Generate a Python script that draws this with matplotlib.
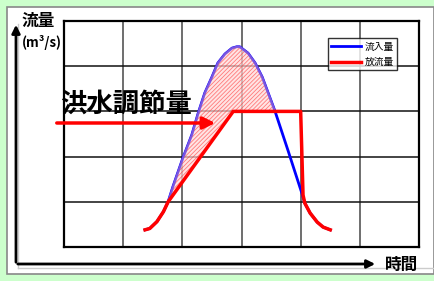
import matplotlib.pyplot as plt
from matplotlib.patches import Rectangle

plt.rcParams['font.family'] = ['Noto Sans CJK JP', 'DejaVu Sans']
plt.rcParams['hatch.linewidth'] = 0.6

# 時間 (grid units) and 流量 readings
t_in = [1.37, 1.45, 1.57, 1.68, 1.76, 1.84, 2.01, 2.16, 2.27, 2.38, 2.50, 2.60, 2.72, 2.84, 2.92,
        2.97, 3.11, 3.23, 3.35, 3.45, 3.57, 3.79, 4.02, 4.07, 4.16, 4.28, 4.38, 4.50]
q_in = [0.38, 0.41, 0.56, 0.78, 1.00, 1.33, 1.97, 2.48, 2.97, 3.41, 3.76, 4.07, 4.27, 4.40, 4.43,
        4.43, 4.29, 4.07, 3.76, 3.41, 2.99, 2.12, 1.19, 0.97, 0.75, 0.55, 0.44, 0.38]

t_out = [1.37, 1.45, 1.57, 1.68, 1.76, 2.86, 4.00, 4.04, 4.07, 4.16, 4.28, 4.38, 4.50]
q_out = [0.38, 0.41, 0.56, 0.78, 1.00, 3.00, 3.00, 1.15, 0.97, 0.75, 0.55, 0.44, 0.38]

legend_labels = ['流入量', '放流量']

W, H = 434, 281
fig = plt.figure(figsize=(W / 100, H / 100), dpi=100)
fig.patch.set_facecolor('#ccffcc')

# background panel (pixel coords)
bg = fig.add_axes([0, 0, 1, 1])
bg.set_xlim(0, W)
bg.set_ylim(H, 0)
bg.axis('off')
bg.add_patch(Rectangle((7, 7), W - 7, 267, facecolor='white', edgecolor='#888888', lw=1.2))
bg.plot([18, 18], [24, 268], color='#cccccc', lw=1)
bg.plot([18, W], [268, 268], color='#cccccc', lw=1)

# main chart
ax = fig.add_axes([64 / W, 1 - 247 / H, 355 / W, 226 / H])
ax.set_xlim(0, 6)
ax.set_ylim(0, 5)
ax.set_xticks(range(7))
ax.set_yticks(range(6))
ax.tick_params(length=0, labelbottom=False, labelleft=False)
for x in range(1, 6):
    ax.axvline(x, color='#555555', lw=1.2, zorder=0)
for y in range(1, 5):
    ax.axhline(y, color='#111111', lw=1.1, zorder=0)
for s in ax.spines.values():
    s.set_linewidth(1.6)
    s.set_color('black')

ax.plot(t_in, q_in, color='blue', lw=2, zorder=2, label=legend_labels[0])

# hatched area: inflow above outflow (between the two crossing points)
i0, i1 = t_in.index(1.76), t_in.index(3.57)
poly_t = t_in[i0:i1 + 1] + [2.86, 1.76]
poly_q = q_in[i0:i1 + 1] + [3.00, 1.00]
ax.fill(poly_t, poly_q, facecolor=(1, 0.85, 0.85, 0.7), edgecolor=(1, 0.2, 0.2, 0.6),
        hatch='////////', lw=0, zorder=3)
ax.plot(t_in[i0:i1 + 1], q_in[i0:i1 + 1], color='#7a55e0', lw=1.6, zorder=3)
ax.plot(t_out, q_out, color='red', lw=2.5, zorder=4, label=legend_labels[1])

leg = ax.legend(loc='upper right', bbox_to_anchor=(0.952, 0.945), fontsize=7,
                frameon=True, fancybox=False, edgecolor='black', handlelength=3.0,
                borderpad=0.35, labelspacing=0.55, handletextpad=0.4)
leg.get_frame().set_linewidth(1)

# overlay for arrows and labels
ov = fig.add_axes([0, 0, 1, 1])
ov.set_xlim(0, W)
ov.set_ylim(H, 0)
ov.axis('off')
ov.patch.set_alpha(0)
ov.annotate('', xy=(16, 22), xytext=(16, 265),
            arrowprops=dict(arrowstyle='-|>', color='black', lw=2, mutation_scale=12))
ov.annotate('', xy=(378, 264), xytext=(15, 264),
            arrowprops=dict(arrowstyle='-|>', color='black', lw=2, mutation_scale=12))
ov.text(38, 21, '流量', fontsize=12, fontweight='bold', ha='center', va='center')
ov.text(42, 42, '(m³/s)', fontsize=9.5, fontweight='bold', ha='center', va='center')
ov.text(402, 265, '時間', fontsize=12, fontweight='bold', ha='center', va='center')
ov.text(126, 104, '洪水調節量', fontsize=19, fontweight='bold', ha='center', va='center')
ov.annotate('', xy=(218, 123), xytext=(54, 123),
            arrowprops=dict(arrowstyle='-|>', color='red', lw=2.5, mutation_scale=18))

fig.savefig('out.png', dpi=100, facecolor=fig.get_facecolor())
